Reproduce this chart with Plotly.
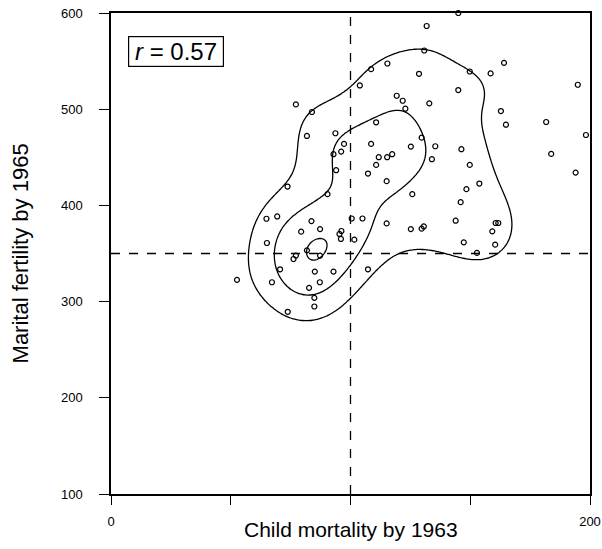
import numpy as np
import plotly.graph_objects as go

# Data (child mortality by 1963, marital fertility by 1965)
child_mortality = [
    77.2, 83.9, 81.8, 93.7, 97.3, 96.1, 92.9, 94.0, 73.7, 90.4,
    64.9, 69.4, 83.7, 87.3, 79.4, 96.2, 95.4, 96.0, 65.1, 81.8,
    77.2, 76.2, 87.3, 70.6, 85.1, 92.9, 52.6, 67.2, 87.2, 82.7,
    84.9, 84.9, 73.8, 145.0, 131.8, 130.8, 115.4, 108.6, 164.1, 128.6,
    149.8, 158.5, 103.9, 194.9, 145.0, 119.3, 121.8, 122.9, 132.9, 162.8,
    110.7, 164.9, 181.7, 198.3, 108.6, 125.2, 129.7, 135.4, 146.3, 134.0,
    111.8, 115.3, 117.4, 110.7, 107.3, 115.1, 149.8, 183.8, 194.0, 153.8,
    125.8, 148.4, 146.0, 100.5, 105.0, 115.1, 125.2, 129.7, 130.6, 143.9,
    160.6, 161.7, 159.2, 101.6, 147.3, 160.4, 152.8, 107.3,
]
marital_fertility = [
    505.0, 497.1, 472.2, 475.0, 463.9, 455.9, 453.2, 436.6, 419.6, 411.7,
    386.1, 388.5, 383.7, 375.4, 372.7, 373.4, 370.3, 365.1, 360.9, 353.3,
    347.8, 344.3, 347.8, 333.6, 331.2, 331.2, 322.6, 320.1, 320.1, 314.3,
    303.9, 294.9, 289.4, 600.0, 586.5, 561.0, 547.5, 541.6, 548.2, 536.8,
    539.2, 537.2, 524.7, 525.4, 519.9, 514.0, 508.8, 500.5, 506.1, 498.1,
    486.4, 483.9, 486.7, 473.2, 463.9, 461.1, 470.4, 461.5, 458.4, 448.0,
    450.1, 450.1, 453.2, 442.1, 433.1, 425.2, 442.1, 453.5, 434.1, 422.7,
    411.7, 416.9, 403.4, 386.4, 386.4, 381.3, 375.4, 375.8, 378.1, 384.1,
    381.7, 381.7, 373.0, 364.4, 361.6, 359.2, 350.6, 333.6,
]
mean_mortality = 100
mean_fertility = 350
r_label = "&#8201;<i>r</i> = 0.57&#8201;"
x_title = "Child mortality by 1963"
y_title = "Marital fertility by 1965"
x_tickvals = [0, 50, 100, 150, 200]
x_ticktext = ["0", "", "", "", "200"]
y_tickvals = [100, 200, 300, 400, 500, 600]
density_levels = [0.36, 0.68, 0.98]  # fractions of peak density

# Kernel density estimate for contour lines
xs = np.array(child_mortality)
ys = np.array(marital_fertility)
gx = np.linspace(0, 200, 201)
gy = np.linspace(100, 600, 251)
GX, GY = np.meshgrid(gx, gy)
sx, sy = 2.4, 0.9646  # equalise axis units
h = 31.0
Z = np.zeros_like(GX)
for px, py in zip(xs, ys):
    Z += np.exp(-(((GX - px) * sx) ** 2 + ((GY - py) * sy) ** 2) / (2 * h * h))
Zmax = Z.max()

fig = go.Figure()
for lv in density_levels:
    L = lv * Zmax
    fig.add_trace(go.Contour(
        x=gx, y=gy, z=Z, showscale=False, hoverinfo="skip",
        contours=dict(coloring="lines", start=L, end=L, size=1),
        colorscale=[[0, "black"], [1, "black"]],
        line=dict(width=1.3, smoothing=1),
    ))

fig.add_trace(go.Scatter(
    x=child_mortality, y=marital_fertility, mode="markers",
    marker=dict(symbol="circle-open", size=5, color="black", line=dict(width=1.2)),
    showlegend=False, cliponaxis=False, hoverinfo="skip",
))

fig.add_shape(type="line", x0=mean_mortality, x1=mean_mortality, y0=100, y1=600,
              line=dict(color="black", width=1.3, dash="dash"))
fig.add_shape(type="line", x0=0, x1=200, y0=mean_fertility, y1=mean_fertility,
              line=dict(color="black", width=1.3, dash="dash"))

fig.add_annotation(x=0.035, y=0.952, xref="paper", yref="paper", xanchor="left", yanchor="top",
                   text=r_label, showarrow=False,
                   font=dict(family="Liberation Sans, Arial", size=24, color="black"),
                   bordercolor="black", borderwidth=1.2, borderpad=1, bgcolor="white")

fig.add_annotation(x=0.5, y=-0.074, xref="paper", yref="paper", yanchor="middle",
                   text=x_title, showarrow=False,
                   font=dict(family="Liberation Sans, Arial", size=21, color="black"))

fig.add_annotation(x=-0.188, y=0.5, xref="paper", yref="paper",
                   xanchor="center", yanchor="middle", textangle=-90,
                   text=y_title, showarrow=False,
                   font=dict(family="Liberation Sans, Arial", size=22, color="black"))

fig.update_layout(
    width=602, height=549,
    margin=dict(l=111, r=12, t=13, b=55),
    paper_bgcolor="white", plot_bgcolor="white",
    font=dict(family="Liberation Sans, Arial", color="black"),
    showlegend=False, hovermode=False,
    xaxis=dict(range=[0, 200], tickvals=x_tickvals, ticktext=x_ticktext,
               ticks="outside", ticklen=9, tickwidth=1.3, tickcolor="black",
               showline=True, linecolor="black", linewidth=1.5, mirror=True,
               showgrid=False, zeroline=False, tickfont=dict(size=13),
               ticklabelstandoff=6, automargin=False),
    yaxis=dict(range=[100, 600], tickvals=y_tickvals,
               ticks="outside", ticklen=10, tickwidth=1.3, tickcolor="black",
               showline=True, linecolor="black", linewidth=1.5, mirror=True,
               showgrid=False, zeroline=False, tickfont=dict(size=13),
               ticklabelstandoff=14, automargin=False),
)

# remove the page's default body margin so the figure sits at the window's corner
fig.write_html("out.html", config={"displayModeBar": False},
               post_script="document.body.style.margin='0';document.body.style.overflow='hidden';")
